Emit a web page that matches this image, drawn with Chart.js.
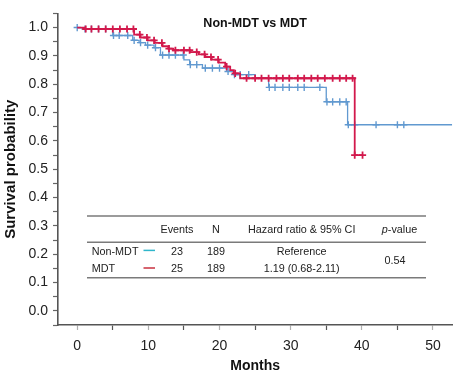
<!DOCTYPE html>
<html>
<head>
<meta charset="utf-8">
<script src="https://cdn.jsdelivr.net/npm/chart.js@4/dist/chart.umd.min.js"></script>
<style>
  html, body { margin: 0; padding: 0; background: #ffffff; }
  #wrap { position: relative; width: 458px; height: 375px; }
</style>
</head>
<body>
<div id="wrap"><canvas id="c" width="458" height="375"></canvas></div>
<script>
// ---------- data ----------
const chartTitle = 'Non-MDT vs MDT';
const xTitle = 'Months';
const yTitle = 'Survival probability';

const xTickValues = [0, 5, 10, 15, 20, 25, 30, 35, 40, 45, 50];
const xTickLabels = ['0', '', '10', '', '20', '', '30', '', '40', '', '50'];
const yTickValues = [-0.05, 0, 0.05, 0.1, 0.15, 0.2, 0.25, 0.3, 0.35, 0.4, 0.45, 0.5, 0.55, 0.6, 0.65, 0.7, 0.75, 0.8, 0.85, 0.9, 0.95, 1.0, 1.05];
const yTickLabels = ['', '0.0', '', '0.1', '', '0.2', '', '0.3', '', '0.4', '', '0.5', '', '0.6', '', '0.7', '', '0.8', '', '0.9', '', '1.0', ''];

// Kaplan-Meier steps (time of step, survival after step)
const mdtTimes    = [0, 1.0, 8.0, 8.9, 9.9, 10.9, 12.0, 12.8, 13.5, 15.9, 17.1, 18.0, 18.9, 19.9, 20.8, 21.5, 22.0, 22.9, 39.0, 40.1];
const mdtSurv     = [1.000, 0.995, 0.975, 0.965, 0.955, 0.946, 0.934, 0.926, 0.920, 0.913, 0.905, 0.896, 0.887, 0.876, 0.862, 0.850, 0.838, 0.821, 0.550, 0.550];
const mdtCensor   = [1.2, 2, 3, 4, 5, 6, 7, 7.9, 8.8, 9.8, 10.8, 11.9, 12.9, 13.8, 15, 15.8, 16.8, 17.9, 18.8, 19.8, 21, 22.2, 23.8, 25, 25.9, 26.9, 28, 28.9, 29.8, 31, 31.9, 32.9, 33.8, 34.8, 35.9, 36.9, 37.8, 38.7, 39.0, 40.1];

const nonMdtTimes  = [0, 1.0, 5.0, 7.8, 8.7, 9.6, 10.8, 11.7, 15.0, 15.8, 17.6, 21.0, 22.0, 25.0, 26.9, 35.0, 38.0, 52.7];
const nonMdtSurv   = [1.000, 0.995, 0.972, 0.955, 0.947, 0.938, 0.929, 0.903, 0.886, 0.869, 0.857, 0.845, 0.834, 0.822, 0.789, 0.738, 0.657, 0.657];
const nonMdtCensor = [0, 1.1, 2, 3, 4, 5.1, 5.9, 7.1, 8.0, 8.9, 9.9, 11.0, 12.0, 12.9, 13.8, 14.9, 15.9, 16.8, 18.0, 19.0, 20.0, 21.2, 22.1, 22.9, 24.1, 27.0, 27.8, 28.9, 29.8, 31.0, 31.9, 34.1, 35.1, 35.9, 36.9, 37.8, 38.1, 39.0, 42.0, 45.0, 45.9];

// table
const tableHeader = ['Events', 'N', 'Hazard ratio & 95% CI', 'p-value'];
const groups = ['Non-MDT', 'MDT'];
const events = ['23', '25'];
const totals = ['189', '189'];
const hazard = ['Reference', '1.19 (0.68-2.11)'];
const pValue = '0.54';

// ---------- styles ----------
const RED = '#d2194c';
const BLUE = '#6199d0';
const LEG_BLUE = '#2fb6cb';
const LEG_RED = '#c9303f';
const FONT = '"Liberation Sans", Arial, sans-serif';

function toPoints(ts, ss) { return ts.map((t, i) => ({ x: t, y: ss[i] })); }
function survAt(ts, ss, t) {
  let v = ss[0];
  for (let i = 0; i < ts.length; i++) { if (ts[i] <= t) v = ss[i]; }
  return v;
}
function censorPoints(cs, ts, ss) { return cs.map(t => ({ x: t, y: survAt(ts, ss, t) })); }

const overlay = {
  id: 'overlay',
  afterDraw(chart) {
    const ctx = chart.ctx;
    const ca = chart.chartArea;
    ctx.save();
    // title
    ctx.fillStyle = '#111';
    ctx.font = 'bold 12.5px ' + FONT;
    ctx.textAlign = 'center';
    ctx.textBaseline = 'middle';
    ctx.fillText(chartTitle, (ca.left + ca.right) / 2, 24);

    // table
    const L = 87, R = 426;
    ctx.strokeStyle = '#7a7a7a';
    ctx.lineWidth = 1.5;
    [216, 242.3, 277.7].forEach(y => {
      ctx.beginPath(); ctx.moveTo(L, y); ctx.lineTo(R, y); ctx.stroke();
    });
    ctx.fillStyle = '#222';
    ctx.font = '10.8px ' + FONT;
    ctx.textBaseline = 'middle';
    ctx.textAlign = 'center';
    const hy = 230;
    ctx.fillText(tableHeader[0], 177, hy);
    ctx.fillText(tableHeader[1], 216, hy);
    ctx.fillText(tableHeader[2], 301.7, hy);
    // p-value with italic p
    const pv = tableHeader[3];
    ctx.font = 'italic 10.8px ' + FONT;
    const wp = ctx.measureText(pv[0]).width;
    ctx.font = '10.8px ' + FONT;
    const wr = ctx.measureText(pv.slice(1)).width;
    const startX = 399.5 - (wp + wr) / 2;
    ctx.textAlign = 'left';
    ctx.font = 'italic 10.8px ' + FONT;
    ctx.fillText(pv[0], startX, hy);
    ctx.font = '10.8px ' + FONT;
    ctx.fillText(pv.slice(1), startX + wp, hy);

    const rows = [251.7, 269.3];
    const legCols = [LEG_BLUE, LEG_RED];
    rows.forEach((y, i) => {
      ctx.textAlign = 'left';
      ctx.fillStyle = '#222';
      ctx.fillText(groups[i], 91.7, y);
      ctx.strokeStyle = legCols[i];
      ctx.lineWidth = 1.5;
      ctx.beginPath(); ctx.moveTo(143.5, y - 1.3); ctx.lineTo(155, y - 1.3); ctx.stroke();
      ctx.textAlign = 'center';
      ctx.fillText(events[i], 177, y);
      ctx.fillText(totals[i], 216, y);
      ctx.fillText(hazard[i], 301.7, y);
    });
    ctx.fillText(pValue, 395, 261);
    ctx.restore();
  }
};

new Chart(document.getElementById('c'), {
  type: 'line',
  data: {
    datasets: [
      { label: 'MDT', data: toPoints(mdtTimes, mdtSurv), borderColor: RED, borderWidth: 1.8,
        stepped: true, pointRadius: 0, fill: false, order: 0 },
      { label: 'MDT censored', data: censorPoints(mdtCensor, mdtTimes, mdtSurv), showLine: false,
        pointStyle: 'cross', pointRadius: 3.6, pointBorderWidth: 1.8, borderColor: RED, backgroundColor: RED, order: 0 },
      { label: 'Non-MDT', data: toPoints(nonMdtTimes, nonMdtSurv), borderColor: BLUE, borderWidth: 1.3,
        stepped: true, pointRadius: 0, fill: false, order: 1 },
      { label: 'Non-MDT censored', data: censorPoints(nonMdtCensor, nonMdtTimes, nonMdtSurv), showLine: false,
        pointStyle: 'cross', pointRadius: 3.6, pointBorderWidth: 1.4, borderColor: BLUE, backgroundColor: BLUE, order: 1 }
    ]
  },
  options: {
    responsive: false,
    animation: false,
    devicePixelRatio: 1,
    layout: { padding: { top: 4, right: 3, left: 0, bottom: 0 } },
    plugins: { legend: { display: false }, tooltip: { enabled: false }, title: { display: false } },
    scales: {
      x: {
        type: 'linear', min: -2.7, max: 52.7,
        afterBuildTicks(s) { s.ticks = xTickValues.map(v => ({ value: v })); },
        afterFit(s) { s.height = 50; },
        ticks: {
          autoSkip: false, maxRotation: 0, padding: 8, color: '#222',
          font: { family: FONT, size: 14 },
          callback(v, i) { return xTickLabels[i]; }
        },
        grid: { drawOnChartArea: false, drawTicks: true, tickLength: 5,
                tickColor: (c) => (xTickLabels[c.index] ? '#b0b0b0' : '#555'), tickWidth: 1.2 },
        border: { display: true, color: '#555', width: 1.6 },
        title: { display: true, text: xTitle, color: '#111', font: { family: FONT, size: 14, weight: 'bold' },
                 padding: { top: 0, bottom: 0 } }
      },
      y: {
        type: 'linear', min: -0.05, max: 1.05,
        afterBuildTicks(s) { s.ticks = yTickValues.map(v => ({ value: v })); },
        afterFit(s) { s.width = 58; },
        ticks: {
          autoSkip: false, padding: 5, color: '#222',
          font: { family: FONT, size: 14 },
          callback(v, i) { return yTickLabels[i]; }
        },
        grid: { drawOnChartArea: false, drawTicks: true, tickLength: 5, tickColor: '#666', tickWidth: 1.2 },
        border: { display: true, color: '#555', width: 1.6 },
        title: { display: true, text: yTitle, color: '#111', font: { family: FONT, size: 15, weight: 'bold' },
                 padding: { top: 2, bottom: 0 } }
      }
    }
  },
  plugins: [overlay]
});
</script>
</body>
</html>
